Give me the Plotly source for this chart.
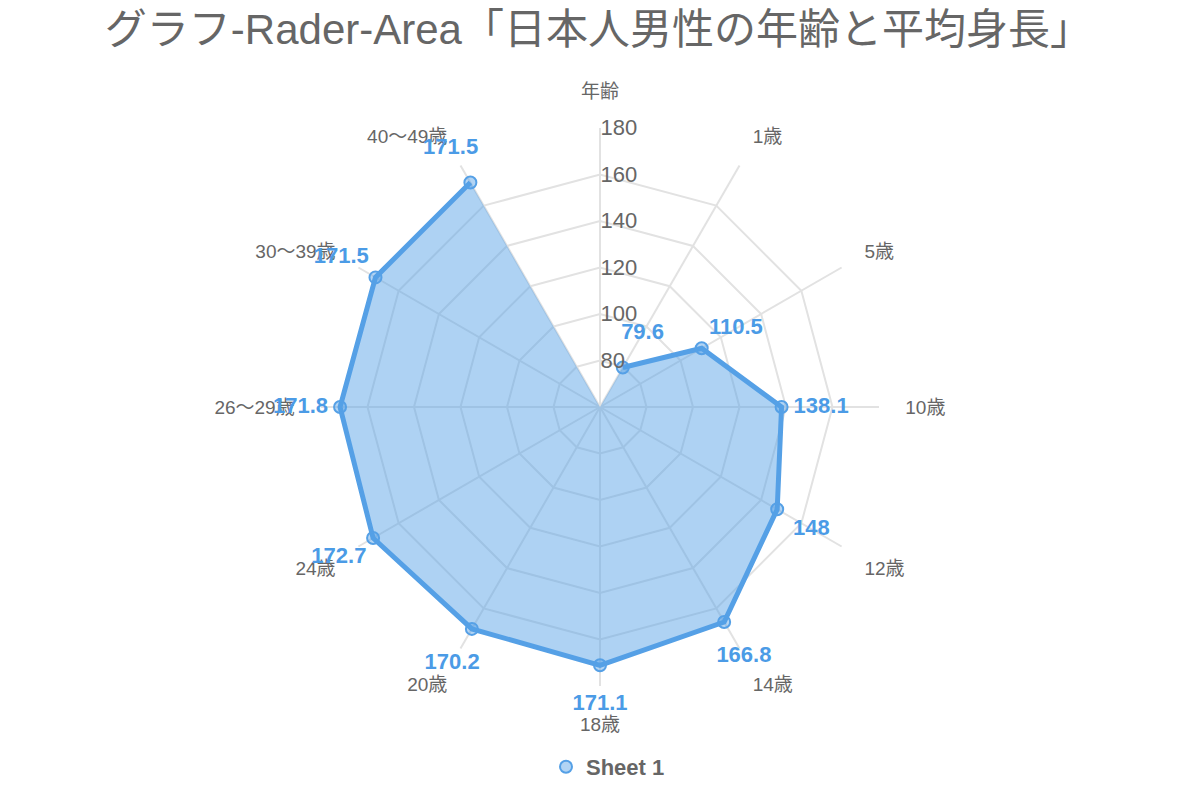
import plotly.graph_objects as go

title_text = "グラフ-Rader-Area「日本人男性の年齢と平均身長」"
categories = ["年齢", "1歳", "5歳", "10歳", "12歳", "14歳", "18歳", "20歳",
              "24歳", "26～29歳", "30～39歳", "40～49歳"]
heights = [None, 79.6, 110.5, 138.1, 148, 166.8, 171.1, 170.2, 172.7, 171.8, 171.5, 171.5]
series_name = "Sheet 1"
r_min, r_max = 60, 180
tick_vals = [80, 100, 120, 140, 160, 180]

LABEL_PAD = 17      # radial distance (axis units) between a point and its value label
LABEL_R_MAX = 200   # extended range of the overlay that carries the value labels

LINE = "#55a0e6"
FILL = "rgba(85,160,230,0.48)"
GRAY = "#666666"
FONT = "Liberation Sans, Arial, Noto Sans CJK JP, sans-serif"

# geometry of the main polar area (pixels)
CX, CY, RAD = 592, 399, 279
RAD2 = RAD * (LABEL_R_MAX - r_min) / (r_max - r_min)

# area (missing value falls to the axis minimum, i.e. the centre)
fill_r = [r_min if v is None else v for v in heights]
fill_r = fill_r + fill_r[:1]
fill_t = categories + categories[:1]

pts = [(c, v) for c, v in zip(categories, heights) if v is not None]
pt_theta = [p[0] for p in pts]
pt_r = [p[1] for p in pts]
pt_text = [f"{v:g}" for v in pt_r]
label_r = [v + LABEL_PAD for v in pt_r]

fig = go.Figure()
fig.add_trace(go.Scatterpolar(
    r=fill_r, theta=fill_t, mode="lines", fill="toself",
    fillcolor=FILL, line=dict(width=0, color=FILL), showlegend=False,
    hoverinfo="skip"))
fig.add_trace(go.Scatterpolar(
    r=pt_r, theta=pt_theta, mode="lines", line=dict(color=LINE, width=5),
    showlegend=False, hoverinfo="skip"))
fig.add_trace(go.Scatterpolar(
    r=pt_r, theta=pt_theta, mode="markers", name=series_name,
    marker=dict(size=12, color="rgba(85,160,230,0.45)", line=dict(color=LINE, width=2)),
    showlegend=True))
# value labels placed outward along each spoke (on a transparent overlay polar)
fig.add_trace(go.Scatterpolar(
    r=label_r, theta=pt_theta, mode="text", subplot="polar2", cliponaxis=False,
    text=pt_text, textposition="middle center",
    textfont=dict(family=FONT, size=22, color="#4b9be6", weight="bold"),
    showlegend=False, hoverinfo="skip"))

fig.update_layout(
    width=1200, height=800,
    paper_bgcolor="white", plot_bgcolor="white",
    margin=dict(l=0, r=0, t=0, b=0),
    font=dict(family=FONT, color=GRAY),
    title=dict(text=title_text, x=0.492, xanchor="center", y=0.974, yanchor="middle",
               yref="container", font=dict(size=42, color=GRAY, family=FONT)),
    polar=dict(
        domain=dict(x=[(CX - RAD)/1200, (CX + RAD)/1200],
                    y=[1 - (CY + RAD)/800, 1 - (CY - RAD)/800]),
        bgcolor="white",
        gridshape="linear",
        angularaxis=dict(direction="clockwise", rotation=90, type="category",
                         categoryarray=categories,
                         gridcolor="#e2e2e2", gridwidth=1.5,
                         showline=False, ticks="outside", ticklen=22,
                         tickcolor="rgba(0,0,0,0)",
                         tickfont=dict(size=19, color=GRAY, family=FONT)),
        radialaxis=dict(range=[r_min, r_max], tickvals=tick_vals, angle=90,
                        showline=False, ticks="", gridcolor="#e2e2e2", gridwidth=1.5,
                        tickangle=90,
                        tickfont=dict(size=22, color=GRAY, family=FONT)),
    ),
    polar2=dict(
        domain=dict(x=[(CX - RAD2)/1200, (CX + RAD2)/1200],
                    y=[1 - (CY + RAD2)/800, 1 - (CY - RAD2)/800]),
        bgcolor="rgba(0,0,0,0)",
        gridshape="linear",
        angularaxis=dict(direction="clockwise", rotation=90, type="category",
                         categoryarray=categories, visible=False),
        radialaxis=dict(range=[r_min, LABEL_R_MAX], visible=False),
    ),
    legend=dict(orientation="h", x=0.5, xanchor="center", y=41/800, yanchor="middle",
                font=dict(size=22, color=GRAY, family=FONT, weight="bold"),
                itemsizing="trace"),
)

fig.write_html("out.html")
